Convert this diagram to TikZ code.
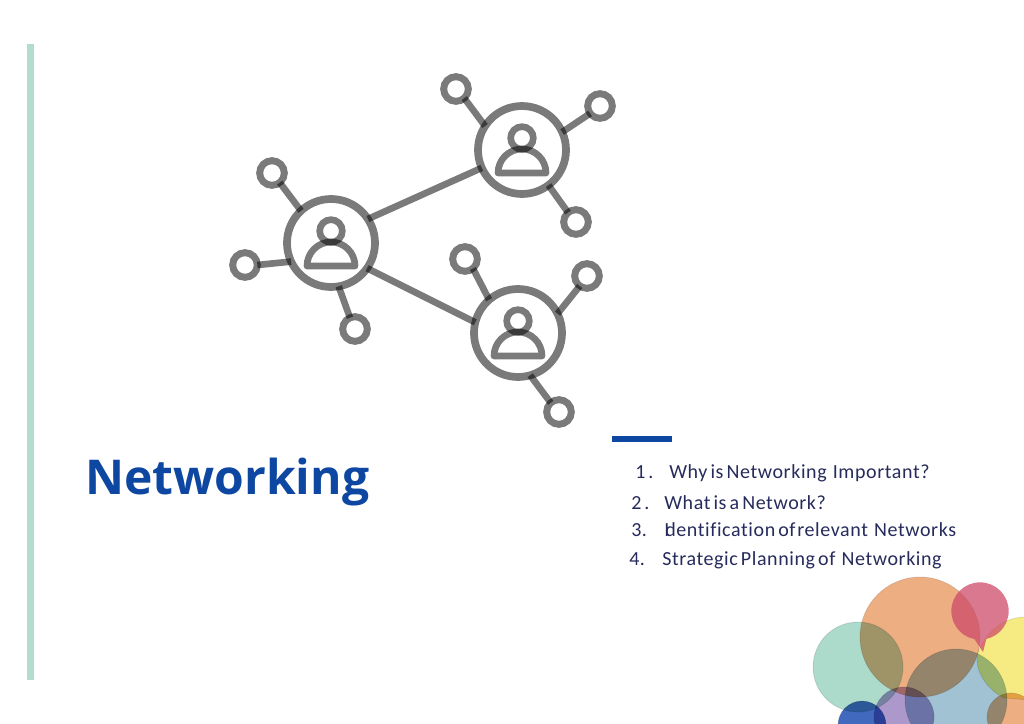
\documentclass[tikz,border=0pt]{standalone}
\usepackage{fontspec}
\setmainfont{Carlito}
\newfontfamily\titlefont{Open Sans}
\newfontfamily\listfont[LetterSpace=3,WordSpace=0.6,Ligatures=NoCommon]{Carlito}
\definecolor{barteal}{HTML}{B2DCCF}
\definecolor{navy}{HTML}{0D47A1}
\definecolor{listink}{HTML}{262B5C}
\definecolor{bteal}{RGB}{172,218,203}
\definecolor{borange}{RGB}{237,174,130}
\definecolor{bpink}{RGB}{205,75,105}
\definecolor{byellow}{RGB}{245,235,130}
\definecolor{bblue}{RGB}{160,194,210}
\definecolor{bpurple}{RGB}{172,152,202}
\definecolor{bnavy}{RGB}{65,105,190}
\tikzset{
  x=0.75pt,y=-0.75pt,
  ink/.style={draw=black,draw opacity=0.52,line cap=butt},
  hub/.style={circle,ink,line width=5.8pt,minimum size=66pt,inner sep=0pt,outer sep=0pt},
  leaf/.style={circle,ink,line width=5.2pt,minimum size=18.5pt,inner sep=0pt,outer sep=0pt},
  head/.style={circle,ink,line width=5pt,minimum size=17pt,inner sep=0pt,outer sep=0pt},
  link/.style={ink,line width=5pt},
  item/.style={anchor=base west,inner sep=0pt,text=listink,font=\listfont\fontsize{15pt}{18pt}\selectfont},
  bubble/.style={draw=black!60,draw opacity=0.18,line width=0.6pt},
}
\newcommand{\person}[3]{%
  \node[head] (#1head) at (#2,#3-12) {};
  \draw[ink,line width=5pt,line join=round] (#2-24,#3+23) arc[start angle=180,end angle=0,radius=18pt] -- cycle;
}
\begin{document}
\begin{tikzpicture}
\useasboundingbox (0,0) rectangle (1024,724);
\fill[barteal] (27,44) rectangle (34,680);
\fill[navy] (612,436) rectangle (672,442);

\node[hub] (a) at (331,243) {};
\node[hub] (b) at (522,150) {};
\node[hub] (c) at (518,333) {};
\person{a}{331}{243}
\person{b}{522}{150}
\person{c}{518}{333}

\node[leaf] (a1) at (272,173) {};
\node[leaf] (a2) at (245,265) {};
\node[leaf] (a3) at (355,329) {};
\node[leaf] (b1) at (456,89) {};
\node[leaf] (b2) at (600,106) {};
\node[leaf] (b3) at (576,222) {};
\node[leaf] (c1) at (465,259) {};
\node[leaf] (c2) at (587,276) {};
\node[leaf] (c3) at (559,412) {};

\draw[link] (a.33) -- (b.204);
\draw[link] (a.-35) -- (c.166);
\draw[link] (a.133) -- (a1.-51);
\draw[link] (a.205) -- (a2.0);
\draw[link] (a.-80) -- (a3.114);
\draw[link] (b.147) -- (b1.-48);
\draw[link] (b.24) -- (b2.217);
\draw[link] (b.-53) -- (b3.130);
\draw[link] (c.131) -- (c1.-50);
\draw[link] (c.26) -- (c2.234);
\draw[link] (c.-74) -- (c3.132);

\node[anchor=base west,inner sep=0pt,text=navy,font=\titlefont\bfseries\fontsize{36pt}{40pt}\selectfont] (title) at (85,494) {Networking};

\node[item] (n1) at (635,478) {1 .};
\node[item] (t1) at (669,478) {Why is Networking\ \ Important?};
\node[item] (n2) at (631,509) {2 .};
\node[item] (t2) at (664,509) {What is a Network?};
\node[item] (n3) at (631,536) {3.};
\node[item] (t3) at (664,536) {I\kern-3pt dentification of\kern-1pt{} relevant\ \ Networks};
\node[item] (n4) at (629,565) {4.};
\node[item] (t4) at (662,565) {Strategic Planning of\ \ Networking};

\begin{scope}
\clip (0,0) rectangle (1024,724);
\begin{scope}[blend mode=multiply]
\filldraw[bubble,fill=bteal] (858,667) circle[radius=33.75pt];
\filldraw[bubble,fill=byellow] (978,652) .. controls (985,635) and (1000,618) .. (1024,617) -- (1030,617) -- (1030,700) -- (1005,698) .. controls (995,695) and (972,675) .. (978,652) -- cycle;
\filldraw[bubble,fill=borange] (920,637) circle[radius=45pt];
\filldraw[bubble,fill=bblue] (956,700) circle[radius=38.25pt];
\filldraw[bubble,fill=bpurple] (904,717) circle[radius=22.5pt];
\filldraw[bubble,fill=bnavy] (862,725) circle[radius=18pt];
\filldraw[bubble,fill=borange] (1011,717) circle[radius=18pt];
\end{scope}
\fill[fill=bpink,fill opacity=0.75] (980,611) circle[radius=21.5pt] (973,637) -- (983,652) -- (987,636) -- cycle;
\end{scope}
\end{tikzpicture}
\end{document}
